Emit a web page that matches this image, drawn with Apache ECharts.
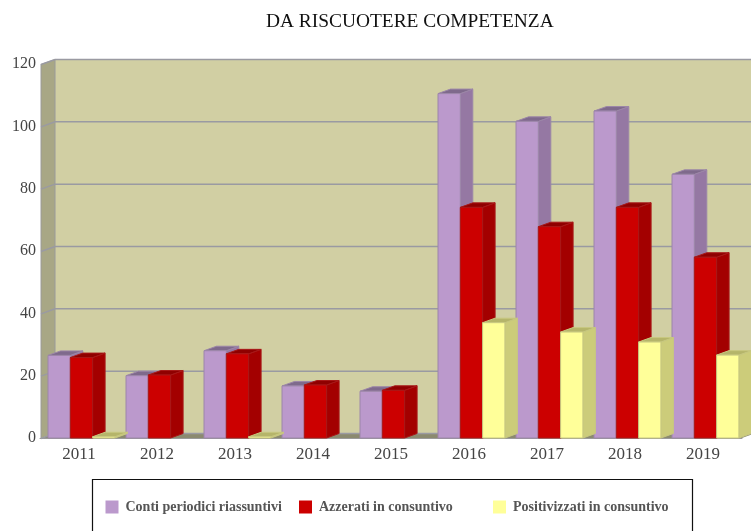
<!DOCTYPE html>
<html>
<head>
<meta charset="utf-8">
<style>html,body{margin:0;padding:0;background:#fff}#c{width:751px;height:531px}</style>
<script src="https://cdn.jsdelivr.net/npm/echarts@6/dist/echarts.min.js"></script>
</head>
<body>
<div id="c"></div>
<script>
const categories = ['2011','2012','2013','2014','2015','2016','2017','2018','2019'];
const yTicks = [0,20,40,60,80,100,120];
const conti = [26.5,20,28,16.7,15,110.5,101.6,104.9,84.6];
const azzerati = [25.8,20.2,27,17,15.3,74,67.8,74,58];
const positivizzati = [0.4,null,0.4,null,null,37,34,30.8,26.6];

const DX = 14, DY = -5, BDX = 12.5, BDY = -4.5, BW = 22.3, OFF = -31;
const SERIF = '"Liberation Serif","DejaVu Serif",serif';

function poly(points, fill, stroke) {
  return {type:'polygon', shape:{points:points}, style:{fill:fill, stroke:stroke||fill, lineWidth:stroke?1:0}};
}
function barSeries(name, values, pos, front, side, top, edge) {
  return {
    name:name, type:'custom', coordinateSystem:'cartesian2d', clip:false,
    itemStyle:{color:front}, encode:{x:0,y:1},
    data: values.map((v,i)=>[i,v]),
    renderItem:function(params, api){
      const v = api.value(1);
      if (v === null || isNaN(v)) return;
      const i = api.value(0);
      const p0 = api.coord([i,0]), p1 = api.coord([i,v]);
      const l = p0[0] + OFF + pos*BW, r = l + BW, b = p0[1], t = p1[1];
      return {type:'group', children:[
        poly([[r,b],[r+BDX,b+BDY],[r+BDX,t+BDY],[r,t]], side, edge),
        poly([[l,t],[l+BDX,t+BDY],[r+BDX,t+BDY],[r,t]], top, edge),
        poly([[l,b],[r,b],[r,t],[l,t]], front, edge)
      ]};
    }
  };
}
const wallSeries = {
  type:'custom', coordinateSystem:'cartesian2d', clip:false, silent:true, encode:{x:0,y:1},
  data: yTicks.map(v=>[0,v]),
  renderItem:function(params, api){
    const v = api.value(1);
    const c = params.coordSys;
    const L = c.x + 1, R = c.x + c.width;
    const y = api.coord([0,v])[1] + 0.5;
    const y0 = api.coord([0,0])[1], yT = api.coord([0,120])[1];
    const children = [];
    if (v === 0) {
      children.push(poly([[L+DX,yT+DY],[R+DX,yT+DY],[R+DX,y0+DY],[L+DX,y0+DY]], '#d1cfa3'));
      children.push(poly([[L,yT],[L+DX,yT+DY],[L+DX,y0+DY],[L,y0]], '#a8a785'));
      children.push(poly([[L,y0],[L+DX,y0+DY],[R+DX,y0+DY],[R,y0]], '#8b8a6f'));
      children.push({type:'line', shape:{x1:L,y1:yT,x2:L,y2:y0}, style:{stroke:'#9a9a9a',lineWidth:1}});
      children.push({type:'line', shape:{x1:L+DX,y1:yT+DY,x2:L+DX,y2:y0+DY}, style:{stroke:'#9a9a9a',lineWidth:1}});
    }
    children.push({type:'polyline', shape:{points:[[L,y],[L+DX,y+DY],[R+DX,y+DY]]},
      style:{stroke:'#9a9aa2',lineWidth:1.5,fill:null}});
    return {type:'group', children:children};
  }
};
function legendAt(name, left) {
  return {show:true, data:[name], left:left, top:500, itemWidth:13, itemHeight:13, itemGap:6, padding:0,
    icon:'rect', selectedMode:false,
    textStyle:{fontFamily:SERIF,fontWeight:'bold',fontSize:14,color:'#555',padding:[0,0,0,2]}};
}
const chart = echarts.init(document.getElementById('c'), null, {renderer:'canvas'});
chart.setOption({
  animation:false,
  backgroundColor:'#fff',
  title:{text:'DA RISCUOTERE COMPETENZA', left:266, top:12,
    textStyle:{fontFamily:SERIF,fontWeight:'normal',fontSize:19.4,color:'#111'}, padding:0},
  grid:{left:40, top:64, width:702, height:374, containLabel:false},
  xAxis:{type:'category', data:categories,
    axisLine:{show:true,lineStyle:{color:'#9a9a9a',width:1}}, axisTick:{show:false}, splitLine:{show:false},
    axisLabel:{fontFamily:SERIF,fontSize:17,color:'#444',margin:8}},
  yAxis:{type:'value', min:0, max:120, interval:20,
    axisLine:{show:false}, axisTick:{show:false}, splitLine:{show:false},
    axisLabel:{fontFamily:SERIF,fontSize:16,color:'#444',margin:4}},
  legend:[legendAt('Conti periodici riassuntivi',105.5), legendAt('Azzerati in consuntivo',299), legendAt('Positivizzati in consuntivo',493)],
  graphic:[{type:'rect', z:-1, shape:{x:92.5,y:479.5,width:600,height:70}, style:{fill:'#fff',stroke:'#111',lineWidth:1.2}}],
  series:[
    wallSeries,
    barSeries('Conti periodici riassuntivi', conti, 0, '#bb99cc', '#9578a3', '#7f6a8c', '#9c86a8'),
    barSeries('Azzerati in consuntivo', azzerati, 1, '#cc0000', '#a30000', '#8f0000', '#a81818'),
    barSeries('Positivizzati in consuntivo', positivizzati, 2, '#ffff99', '#cccc7a', '#b5b56a', '#c8c880')
  ]
});
</script>
</body>
</html>
